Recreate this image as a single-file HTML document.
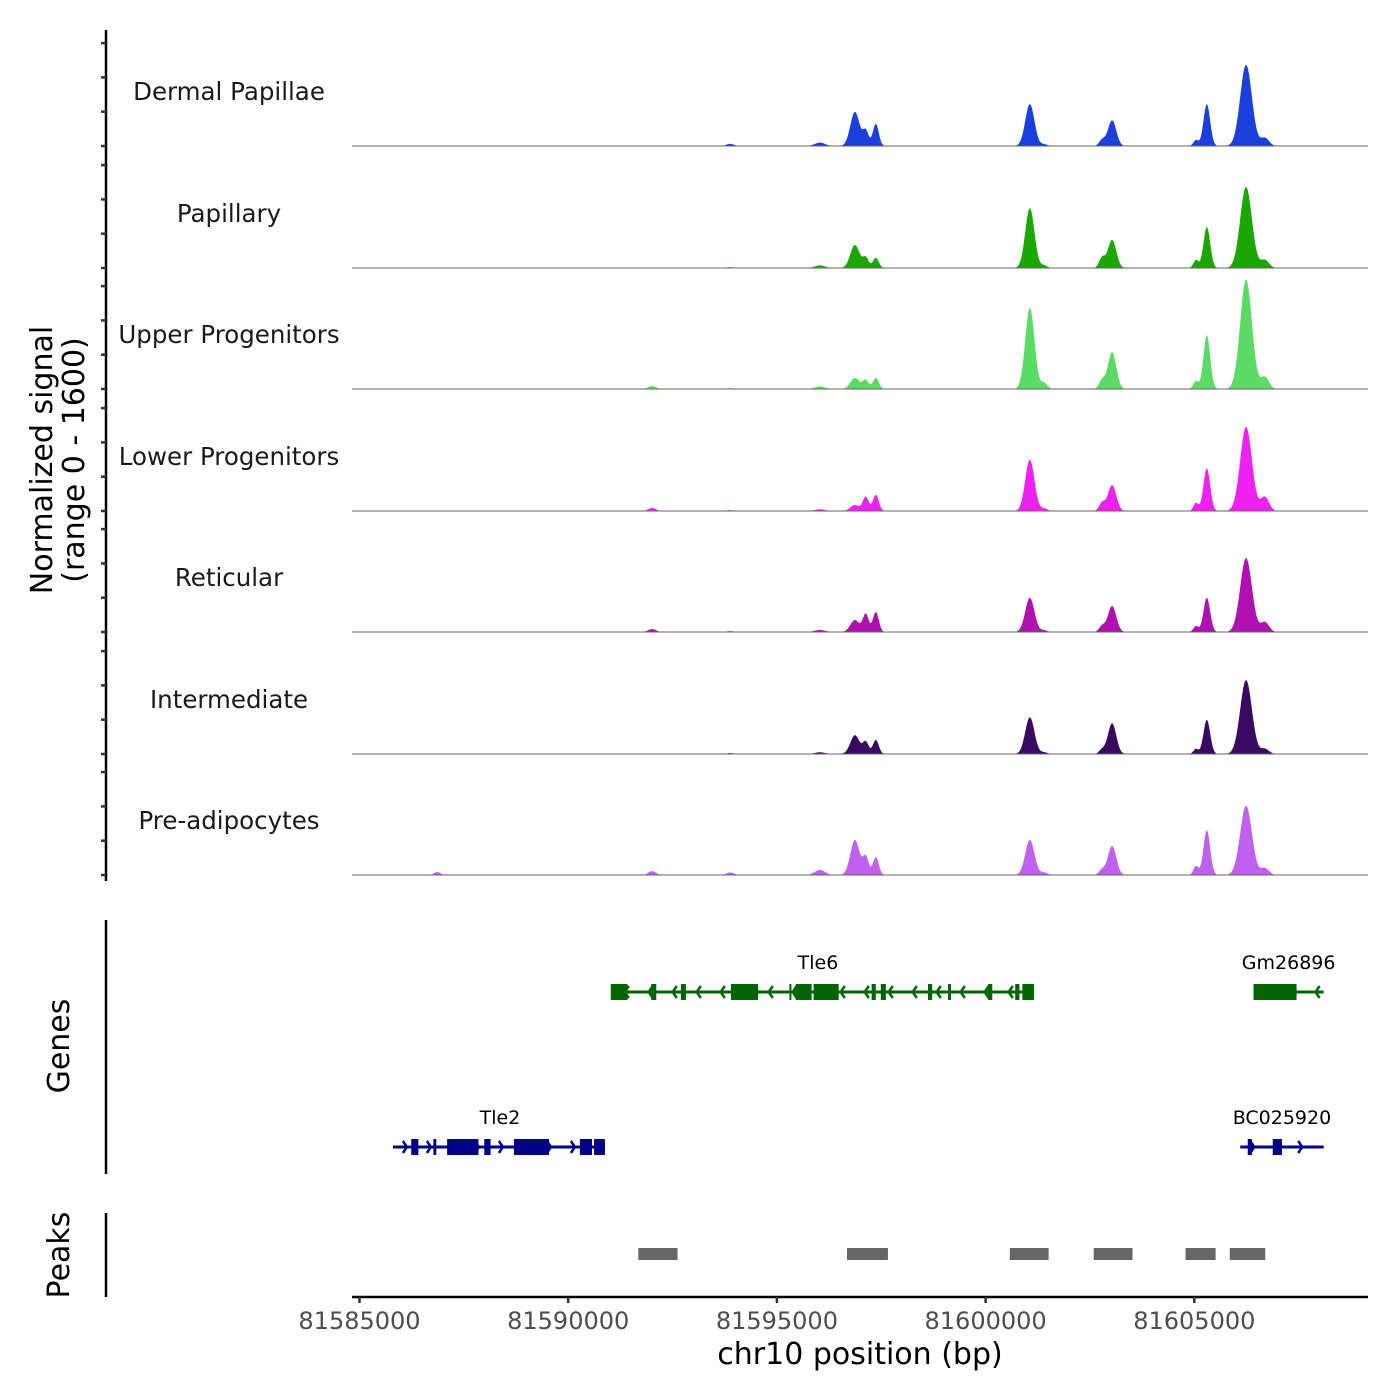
<!DOCTYPE html>
<html><head><meta charset="utf-8"><style>
html,body{margin:0;padding:0;background:#fff;}
svg{display:block;font-family:"DejaVu Sans","Liberation Sans",sans-serif;}
</style></head><body>
<svg id="chart" width="1400" height="1400" viewBox="0 0 1400 1400" xmlns="http://www.w3.org/2000/svg">
<rect width="1400" height="1400" fill="#fff"/>
<g id="tracks"></g>
<g id="genes"></g>
<g id="peaks"></g>
<g id="axes"></g>
<text transform="translate(52,460) rotate(-90)" text-anchor="middle" font-size="30" fill="#000">Normalized signal</text>
<text transform="translate(84,460) rotate(-90)" text-anchor="middle" font-size="30" fill="#000">(range 0 - 1600)</text>
<text transform="translate(69,1046) rotate(-90)" text-anchor="middle" font-size="30" fill="#000">Genes</text>
<text transform="translate(69,1255) rotate(-90)" text-anchor="middle" font-size="30" fill="#000">Peaks</text>
<text x="860" y="1364" text-anchor="middle" font-size="30" fill="#000">chr10 position (bp)</text>
</svg>
<script>
// ---- data ----
const trackNames = ["Dermal Papillae","Papillary","Upper Progenitors","Lower Progenitors","Reticular","Intermediate","Pre-adipocytes"];
const trackColors = ["#1a3fdc","#1aa800","#5adc64","#f020f0","#b010b0","#3a0a60","#c060f0"];
// peak centres (bp) shared by all tracks
const peakCenters = [81586860,81592010,81593880,81596030,81596870,81597130,81597370,81601060,81601400,81602790,81603030,81605040,81605300,81606240,81606690];
const peakWidths  = [80,90,90,120,110,70,70,110,80,70,100,60,80,140,100];
// heights in signal units (0-1600 scale)
const sigDP  = [0,0,25,40,400,175,260,490,20,70,300,70,490,950,95];
const sigPap = [0,0,10,30,270,120,120,700,30,120,330,95,480,950,95];
const sigUP  = [0,35,10,30,130,105,130,950,70,105,430,95,630,1280,140];
const sigLP  = [0,35,10,20,70,165,190,600,30,95,305,95,500,985,165];
const sigRet = [0,35,10,25,140,210,235,400,20,70,305,70,400,865,115];
const sigInt = [0,0,10,20,220,140,165,430,20,50,360,60,400,865,60];
const sigPre = [35,45,30,60,410,210,210,410,30,60,340,105,525,810,80];
const signals = [sigDP,sigPap,sigUP,sigLP,sigRet,sigInt,sigPre];
const xTicks = [81585000,81590000,81595000,81600000,81605000];
const xTickLabels = ["81585000","81590000","81595000","81600000","81605000"];
const geneNames = ["Tle6","Gm26896","Tle2","BC025920"];
const geneStart = [81591020,81606420,81585800,81606100];
const geneEnd   = [81601160,81608100,81590880,81608100];
const geneStrand= [-1,-1,1,1];
const geneRow   = [0,0,1,1];
const geneExons = [
 [[81591020,81591420],[81591990,81592110],[81592700,81592820],[81593900,81594550],[81595300,81595340],[81595450,81595830],[81595880,81596480],[81597270,81597370],[81597490,81597610],[81598620,81598720],[81599100,81599170],[81600060,81600160],[81600710,81600810],[81600880,81601160]],
 [[81606420,81607450]],
 [[81586240,81586410],[81586770,81586840],[81587100,81587850],[81587990,81588140],[81588700,81589540],[81590280,81590570],[81590620,81590880]],
 [[81606280,81606380],[81606880,81607100]]
];
const peakRegionStart = [81591680,81596680,81600580,81602590,81604790,81605850];
const peakRegionEnd   = [81592620,81597660,81601510,81603520,81605510,81606700];

// ---- scales ----
const NS="http://www.w3.org/2000/svg";
const X0=359.5, PXBP=0.04174;
const xs = bp => X0 + (bp-81585000)*PXBP;
const baselines=[146,268,389,511,632,754,875];
const YPX = 137/1600;
const ys = (v,b) => b - v*YPX;
function mk(tag,attrs,parent){const e=document.createElementNS(NS,tag);for(const k in attrs)e.setAttribute(k,attrs[k]);parent.appendChild(e);return e;}

const tracksG=document.getElementById('tracks');
trackNames.forEach((nm,t)=>{
  const b=baselines[t];
  const g=mk('g',{},tracksG);
  
  
  let d='M352,'+b;
  for(let px=352;px<=1368;px+=1){
    const bp=81585000+(px-X0)/PXBP;
    let v=0;
    signals[t].forEach((h,i)=>{const z=(bp-peakCenters[i])/peakWidths[i];v+=h*Math.exp(-0.5*z*z);});
    d+=' L'+px+','+ys(v,b).toFixed(2);
  }
  d+=' L1368,'+b+' Z';
  const p=mk('path',{d:d,fill:trackColors[t],stroke:'none'},g);
  
  
  const l=mk('line',{x1:352,x2:1368,y1:b,y2:b,stroke:'#666','stroke-width':1},g);
  
  
  const tx=mk('text',{x:229,y:b-46,'text-anchor':'middle','font-size':24.5,fill:'#1a1a1a'},g);
  tx.textContent=nm;
  
  
});

const genesG=document.getElementById('genes');
const rowY=[992,1147];
geneNames.forEach((nm,i)=>{
  const y=rowY[geneRow[i]];
  const col=geneRow[i]===0?'#006400':'#00008b';
  const g=mk('g',{},genesG);
  
  
  const x1=xs(geneStart[i]),x2=xs(geneEnd[i]);
  mk('line',{x1:x1,x2:x2,y1:y,y2:y,stroke:col,'stroke-width':3},g);
  for(let ax=x1+14;ax<x2-4;ax+=24){
    const s=geneStrand[i];
    mk('polyline',{points:(ax-4*s)+','+(y-6)+' '+ax+','+y+' '+(ax-4*s)+','+(y+6),fill:'none',stroke:col,'stroke-width':2.5},g);
  }
  geneExons[i].forEach(e=>{
    const r=mk('rect',{x:xs(e[0]),y:y-8,width:Math.max(2,xs(e[1])-xs(e[0])),height:16,fill:col},g);
    
    
  });
  const t=mk('text',{x:(i===0?818:(i===2?500:(x1+x2)/2)),y:y-23,'text-anchor':'middle','font-size':19,fill:'#000'},g);
  t.textContent=nm;
  
  
});

const peaksG=document.getElementById('peaks');
peakRegionStart.forEach((s,i)=>{
  const r=mk('rect',{x:xs(s),y:1248,width:xs(peakRegionEnd[i])-xs(s),height:12,fill:'#666'},peaksG);
  
  
});

const ax=document.getElementById('axes');
mk('line',{x1:106,x2:106,y1:30,y2:881,stroke:'#000','stroke-width':2.5},ax);
baselines.forEach(b=>{for(let k=0;k<4;k++){const y=b-k*34.3;mk('line',{x1:101,x2:106,y1:y,y2:y,stroke:'#333','stroke-width':2.5},ax);}});
mk('line',{x1:106,x2:106,y1:920,y2:1174,stroke:'#000','stroke-width':2.5},ax);
mk('line',{x1:106,x2:106,y1:1213,y2:1297,stroke:'#000','stroke-width':2.5},ax);
mk('line',{x1:352,x2:1368,y1:1297,y2:1297,stroke:'#000','stroke-width':2.5},ax);
xTicks.forEach((v,i)=>{
  const x=xs(v);
  mk('line',{x1:x,x2:x,y1:1297,y2:1303,stroke:'#333','stroke-width':2.5},ax);
  const t=mk('text',{x:x,y:1329,'text-anchor':'middle','font-size':24,fill:'#4d4d4d'},ax);
  t.textContent=xTickLabels[i];
  
  
});
</script>
</body></html>
